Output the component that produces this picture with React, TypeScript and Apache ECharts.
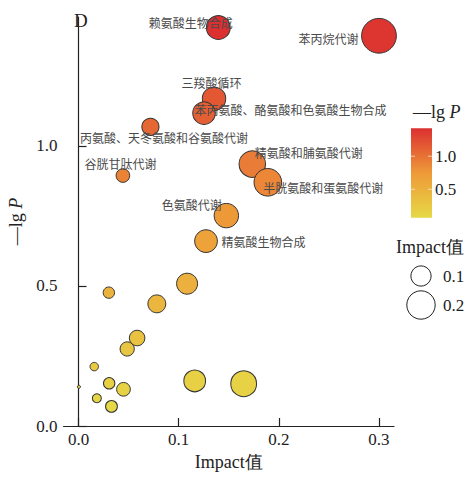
import React, { useEffect, useRef } from "react";
import * as echarts from "echarts";

// ---- data ----
const pathwayNames: string[] = [
  "赖氨酸生物合成",
  "苯丙烷代谢",
  "三羧酸循环",
  "苯丙氨酸、酪氨酸和色氨酸生物合成",
  "丙氨酸、天冬氨酸和谷氨酸代谢",
  "谷胱甘肽代谢",
  "精氨酸和脯氨酸代谢",
  "半胱氨酸和蛋氨酸代谢",
  "色氨酸代谢",
  "精氨酸生物合成",
  "", "", "", "", "", "", "", "", "", "", "", "", "",
];
const impactValues: number[] = [
  0.1396, 0.300, 0.1353, 0.1253, 0.0718, 0.0443, 0.1735, 0.189, 0.1476, 0.1273,
  0.1084, 0.0303, 0.0782, 0.0585, 0.0486, 0.0157, 0.0004, 0.0306, 0.0449, 0.0183,
  0.0329, 0.116, 0.1649,
];
const negLogP: number[] = [
  1.4225, 1.393, 1.168, 1.117, 1.068, 0.894, 0.935, 0.870, 0.751, 0.660,
  0.508, 0.476, 0.436, 0.314, 0.275, 0.212, 0.140, 0.1525, 0.131, 0.099,
  0.070, 0.161, 0.151,
];
const xTicks: number[] = [0, 0.1, 0.2, 0.3];
const yTicks: number[] = [0, 0.5, 1.0];
const colorbarTicks: number[] = [0.5, 1.0];
const sizeLegendValues: number[] = [0.1, 0.2];

// ---- layout / style (not data) ----
const labelOffsets: [number, number][] = [
  [-27, -5],
  [-50, 3],
  [-2, -16],
  [87, -3],
  [14, 11],
  [-2, -12],
  [57, -11],
  [56, 6],
  [-34, -11],
  [58, 1],
];
const colorLow = "#E6D846";
const colorMid = "#EE9A38";
const colorHigh = "#DC3030";
const serif = "'Liberation Serif', 'Times New Roman', serif";
const cjk = "'Noto Sans CJK SC', sans-serif";

const symbolDiameter = (impact: number) => Math.sqrt(8 + 4000 * impact);

export default function App() {
  const ref = useRef<HTMLDivElement>(null);
  useEffect(() => {
    if (!ref.current) return;
    const chart = echarts.init(ref.current, undefined, { renderer: "svg" });

    const vMin = Math.min(...negLogP);
    const vMax = Math.max(...negLogP);

    const data = impactValues.map((x, i) => {
      const name = pathwayNames[i];
      const item: any = { value: [x, negLogP[i]], name };
      if (name) {
        const r = symbolDiameter(x) / 2;
        item.label = {
          show: true,
          position: [r + labelOffsets[i][0], r + labelOffsets[i][1]],
          align: "center",
          verticalAlign: "middle",
          formatter: name,
        };
      }
      return item;
    });

    // colorbar geometry
    const cbX = 411, cbY = 128.3, cbW = 21, cbH = 89.4;
    const cbPos = (v: number) => cbY + ((vMax - v) / (vMax - vMin)) * cbH;

    const graphics: any[] = [
      {
        type: "text",
        x: 74,
        y: 20,
        style: {
          text: "D",
          font: `19px ${serif}`,
          fill: "#222",
          verticalAlign: "middle",
        },
      },
      {
        type: "text",
        x: 413,
        y: 112,
        style: {
          text: "{a|—lg }{b|P}",
          verticalAlign: "middle",
          rich: {
            a: { font: `18px ${serif}`, fill: "#222" },
            b: { font: `italic 18px ${serif}`, fill: "#222" },
          },
        },
      },
      {
        type: "rect",
        shape: { x: cbX, y: cbY, width: cbW, height: cbH },
        style: {
          fill: {
            type: "linear",
            x: 0, y: 0, x2: 0, y2: 1,
            colorStops: [
              { offset: 0, color: colorHigh },
              { offset: 0.5, color: colorMid },
              { offset: 1, color: colorLow },
            ],
          },
        },
      },
      ...colorbarTicks.flatMap((v) => [
        {
          type: "line",
          shape: { x1: cbX, y1: cbPos(v), x2: cbX + 4, y2: cbPos(v) },
          style: { stroke: "rgba(255,255,255,0.6)", lineWidth: 1 },
        },
        {
          type: "line",
          shape: { x1: cbX + cbW - 4, y1: cbPos(v), x2: cbX + cbW, y2: cbPos(v) },
          style: { stroke: "rgba(255,255,255,0.6)", lineWidth: 1 },
        },
        {
          type: "text",
          x: 435,
          y: cbPos(v),
          style: {
            text: v.toFixed(1),
            font: `17px ${serif}`,
            fill: "#222",
            verticalAlign: "middle",
          },
        },
      ]),
      {
        type: "text",
        x: 396,
        y: 247,
        style: {
          text: "Impact值",
          font: `18px ${serif}`,
          fill: "#222",
          verticalAlign: "middle",
        },
      },
      ...sizeLegendValues.flatMap((v, i) => {
        const cy = [276, 305][i];
        return [
          {
            type: "circle",
            shape: { cx: 421, cy, r: symbolDiameter(v) / 2 },
            style: { fill: "#fff", stroke: "#222", lineWidth: 1 },
          },
          {
            type: "text",
            x: 443,
            y: cy,
            style: {
              text: v.toFixed(1),
              font: `17px ${serif}`,
              fill: "#222",
              verticalAlign: "middle",
            },
          },
        ];
      }),
    ];

    const axisCommon = {
      type: "value" as const,
      splitLine: { show: false },
      axisLine: { show: true, lineStyle: { color: "#222", width: 1.2 } },
      axisTick: {
        show: true,
        inside: true,
        length: 8,
        lineStyle: { color: "#222", width: 1.2 },
      },
    };

    chart.setOption({
      animation: false,
      backgroundColor: "#fff",
      grid: {
        left: 63.5,
        right: 80,
        top: 17,
        bottom: 51,
        containLabel: false,
        outerBoundsMode: "none",
      },
      xAxis: {
        ...axisCommon,
        min: -0.015,
        max: 0.315,
        name: "Impact值",
        nameLocation: "middle",
        nameGap: 26,
        nameTextStyle: { fontFamily: serif, fontSize: 18, color: "#222" },
        axisTick: { ...axisCommon.axisTick, customValues: xTicks },
        axisLabel: {
          customValues: xTicks,
          formatter: (v: number) => v.toFixed(1),
          fontFamily: serif,
          fontSize: 17,
          color: "#222",
          margin: 5,
        },
      },
      yAxis: {
        ...axisCommon,
        min: 0,
        max: 1.46,
        name: "{a|—lg }{b|P}",
        nameLocation: "middle",
        nameGap: 32,
        nameRotate: 90,
        nameTextStyle: {
          rich: {
            a: { fontFamily: serif, fontSize: 18, color: "#222" },
            b: { fontFamily: serif, fontSize: 18, fontStyle: "italic", color: "#222" },
          },
        },
        axisTick: { ...axisCommon.axisTick, customValues: yTicks },
        axisLabel: {
          customValues: yTicks,
          formatter: (v: number) => v.toFixed(1),
          fontFamily: serif,
          fontSize: 17,
          color: "#222",
          margin: 6,
        },
      },
      visualMap: {
        show: false,
        type: "continuous",
        dimension: 1,
        min: vMin,
        max: vMax,
        seriesIndex: 0,
        inRange: { color: [colorLow, colorMid, colorHigh] },
      },
      series: [
        {
          type: "scatter",
          data,
          symbolSize: (val: number[]) => symbolDiameter(val[0]),
          itemStyle: { borderColor: "#333", borderWidth: 1, opacity: 1 },
          label: {
            show: false,
            fontFamily: cjk,
            fontSize: 12,
            color: "#4a4a4a",
          },
          labelLayout: { hideOverlap: false },
          z: 2,
        },
      ],
      graphic: graphics,
    });

    return () => chart.dispose();
  }, []);

  return (
    <div
      ref={ref}
      style={{ position: "fixed", left: 0, top: 0, width: 474, height: 477 }}
    />
  );
}
